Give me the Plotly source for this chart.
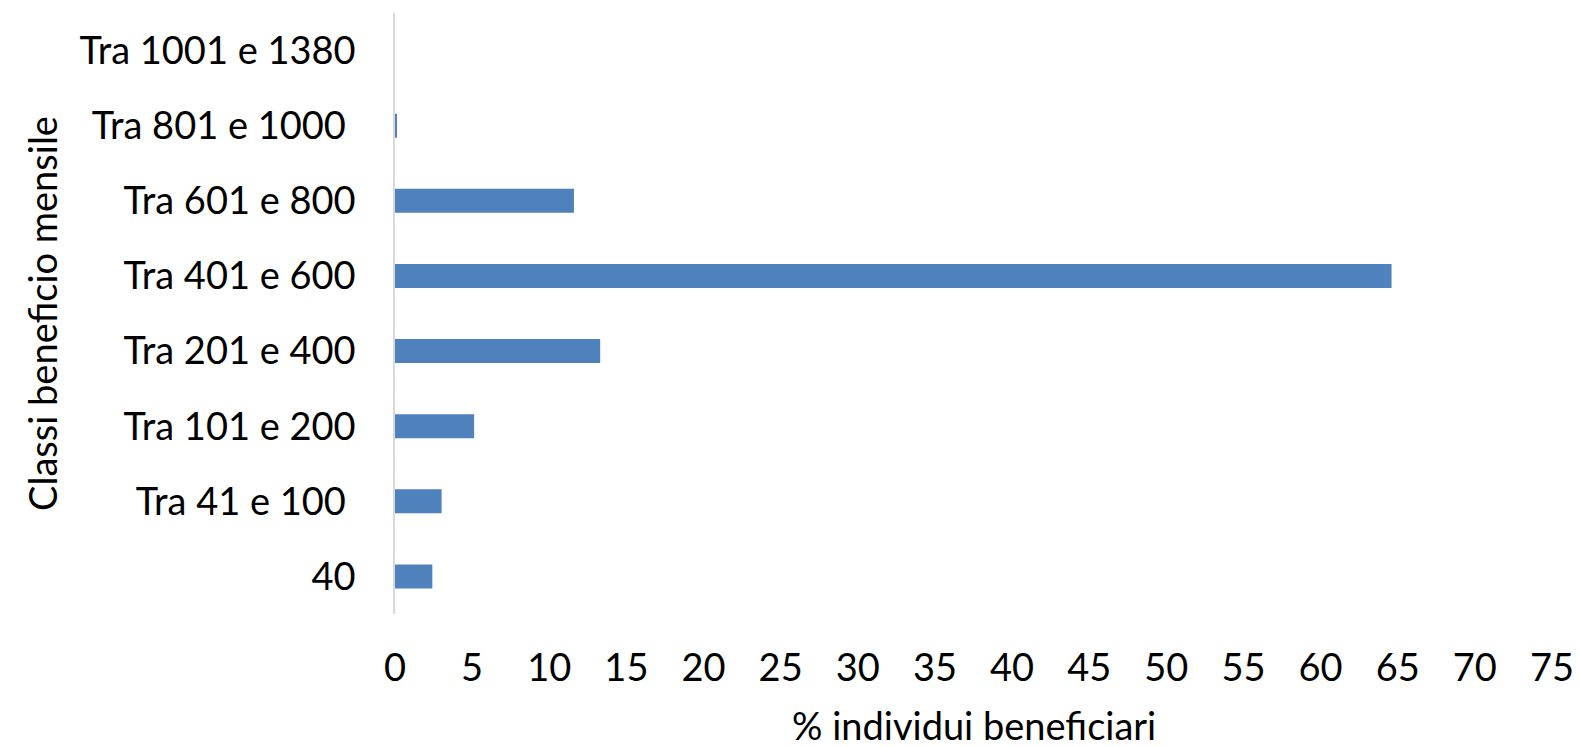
import plotly.graph_objects as go

categories = [
    "40",
    "Tra 41 e 100\u00a0",
    "Tra 101 e 200",
    "Tra 201 e 400",
    "Tra 401 e 600",
    "Tra 601 e 800",
    "Tra 801 e 1000\u00a0",
    "Tra 1001 e 1380",
]
values = [2.42, 3.02, 5.13, 13.3, 64.6, 11.6, 0.12, 0.0]
x_ticks = list(range(0, 80, 5))

FONT = "Lato"
fig = go.Figure(
    go.Bar(
        x=values,
        y=categories,
        orientation="h",
        marker=dict(color="#4F81BD", line=dict(width=0)),
    )
)

# the page body has an 8px default margin, so the figure is shifted by 8px
fig.update_layout(
    width=1572,
    height=739,
    paper_bgcolor="white",
    plot_bgcolor="white",
    margin=dict(l=387, r=27.5, t=5, b=132.5),
    bargap=0.68,
    showlegend=False,
    font=dict(family=FONT, size=38, color="#000000"),
)

fig.update_xaxes(
    range=[0, 75],
    tickvals=x_ticks,
    ticktext=[str(v) for v in x_ticks],
    showgrid=False,
    zeroline=False,
    showline=False,
    ticks="",
    ticklabelstandoff=28,
    tickfont=dict(family=FONT, size=38),
    automargin=False,
)
fig.update_yaxes(
    categoryorder="array",
    categoryarray=categories,
    showgrid=False,
    zeroline=False,
    showline=True,
    linecolor="#D9D9D9",
    linewidth=1.5,
    ticks="",
    ticklabelstandoff=30,
    tickfont=dict(family=FONT, size=38),
    title=dict(text="Classi beneficio mensile", font=dict(family=FONT, size=38), standoff=10),
    automargin=False,
)

fig.add_annotation(
    text="% individui beneficiari",
    xref="paper", yref="paper",
    x=0.5, y=-0.185,
    xanchor="center", yanchor="middle",
    showarrow=False,
    font=dict(family=FONT, size=38, color="#000000"),
)

fig.write_html("out.html")
